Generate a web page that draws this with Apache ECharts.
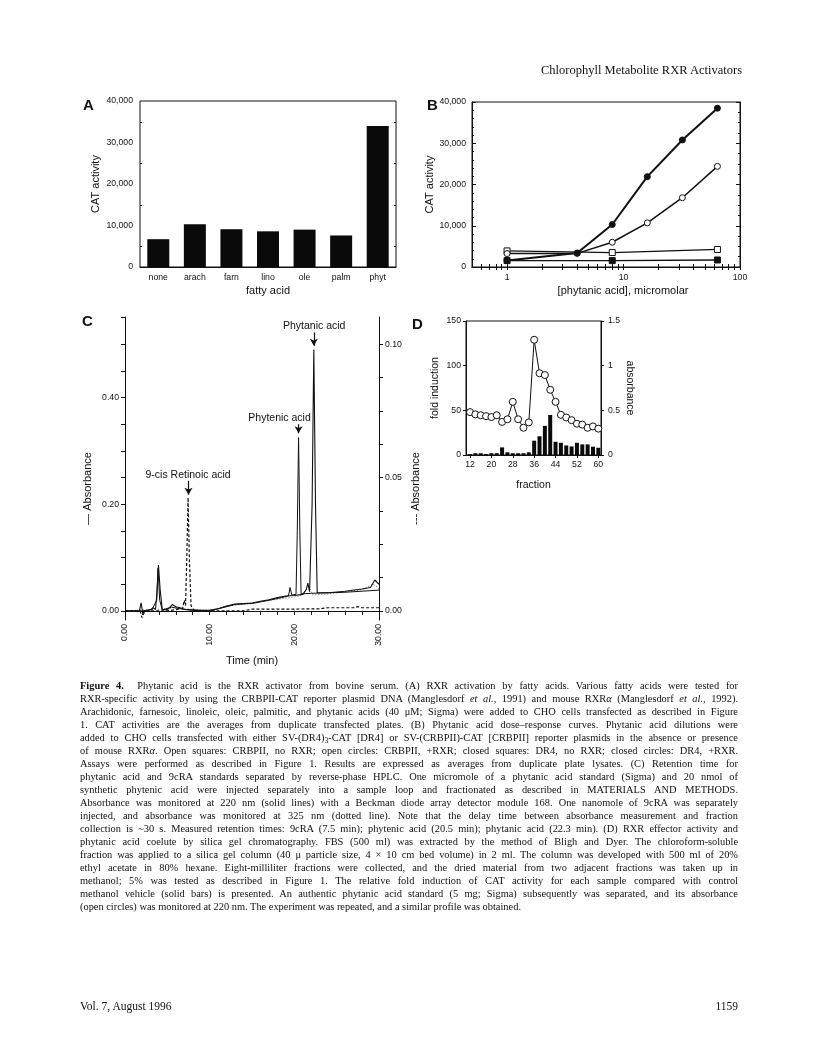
<!DOCTYPE html>
<html>
<head>
<meta charset="utf-8">
<script src="https://cdn.jsdelivr.net/npm/echarts@6/dist/echarts.min.js"></script>
<style>
  html, body { margin: 0; padding: 0; background: #fff; }
  #page { position: relative; width: 816px; height: 1060px; overflow: hidden; }
  #chart { position: absolute; left: 0; top: 0; width: 816px; height: 1060px; }
  .serif { position: absolute; font-family: 'Liberation Serif', 'DejaVu Serif', serif; color: #111; }
  #runhead { right: 74px; top: 63px; font-size: 12.5px; }
  #caption { left: 80px; top: 679px; width: 658px; font-size: 10.4px; line-height: 13px; }
  #caption .ln { white-space: nowrap; height: 13px; }
  #caption sub { font-size: 7.5px; line-height: 0; vertical-align: -2px; }
  #footL { left: 80px; top: 1000px; font-size: 11.5px; }
  #footR { right: 78px; top: 1000px; font-size: 11.5px; }
</style>
</head>
<body>
<div id="page">
  <div id="chart"></div>
  <div id="runhead" class="serif">Chlorophyll Metabolite RXR Activators</div>
  <div id="caption" class="serif">
    <div class="ln"><span><b>Figure 4.</b>&nbsp; Phytanic acid is the RXR activator from bovine serum. (A) RXR activation by fatty acids. Various fatty acids were tested for</span></div>
    <div class="ln"><span>RXR-specific activity by using the CRBPII-CAT reporter plasmid DNA (Manglesdorf <i>et al.</i>, 1991) and mouse RXR<i>α</i> (Manglesdorf <i>et al.</i>, 1992).</span></div>
    <div class="ln"><span>Arachidonic, farnesoic, linoleic, oleic, palmitic, and phytanic acids (40 μM; Sigma) were added to CHO cells transfected as described in Figure</span></div>
    <div class="ln"><span>1. CAT activities are the averages from duplicate transfected plates. (B) Phytanic acid dose–response curves. Phytanic acid dilutions were</span></div>
    <div class="ln"><span>added to CHO cells transfected with either SV-(DR4)<sub>3</sub>-CAT [DR4] or SV-(CRBPII)-CAT [CRBPII] reporter plasmids in the absence or presence</span></div>
    <div class="ln"><span>of mouse RXR<i>α</i>. Open squares: CRBPII, no RXR; open circles: CRBPII, +RXR; closed squares: DR4, no RXR; closed circles: DR4, +RXR.</span></div>
    <div class="ln"><span>Assays were performed as described in Figure 1. Results are expressed as averages from duplicate plate lysates. (C) Retention time for</span></div>
    <div class="ln"><span>phytanic acid and 9cRA standards separated by reverse-phase HPLC. One micromole of a phytanic acid standard (Sigma) and 20 nmol of</span></div>
    <div class="ln"><span>synthetic phytenic acid were injected separately into a sample loop and fractionated as described in MATERIALS AND METHODS.</span></div>
    <div class="ln"><span>Absorbance was monitored at 220 nm (solid lines) with a Beckman diode array detector module 168. One nanomole of 9cRA was separately</span></div>
    <div class="ln"><span>injected, and absorbance was monitored at 325 nm (dotted line). Note that the delay time between absorbance measurement and fraction</span></div>
    <div class="ln"><span>collection is ~30 s. Measured retention times: 9cRA (7.5 min); phytenic acid (20.5 min); phytanic acid (22.3 min). (D) RXR effector activity and</span></div>
    <div class="ln"><span>phytanic acid coelute by silica gel chromatography. FBS (500 ml) was extracted by the method of Bligh and Dyer. The chloroform-soluble</span></div>
    <div class="ln"><span>fraction was applied to a silica gel column (40 μ particle size, 4 × 10 cm bed volume) in 2 ml. The column was developed with 500 ml of 20%</span></div>
    <div class="ln"><span>ethyl acetate in 80% hexane. Eight-milliliter fractions were collected, and the dried material from two adjacent fractions was taken up in</span></div>
    <div class="ln"><span>methanol; 5% was tested as described in Figure 1. The relative fold induction of CAT activity for each sample compared with control</span></div>
    <div class="ln"><span>methanol vehicle (solid bars) is presented. An authentic phytanic acid standard (5 mg; Sigma) subsequently was separated, and its absorbance</span></div>
    <div class="ln last"><span>(open circles) was monitored at 220 nm. The experiment was repeated, and a similar profile was obtained.</span></div>
  </div>
  <div id="footL" class="serif">Vol. 7, August 1996</div>
  <div id="footR" class="serif">1159</div>
</div>
<script>
  // --- A: fatty acids
  const fattyAcids = ['none', 'arach', 'farn', 'lino', 'ole', 'palm', 'phyt']
  const catActivity = [6700, 10300, 9100, 8600, 9000, 7600, 34000]

  // --- B: dose response
  const doseAll = [1, 4, 8, 16, 32, 64]
  const dr4WithRxr = [1600, 3400, 10300, 21900, 30800, 38500]
  const crbpWithRxr = [3250, 3300, 6000, 10700, 16800, 24400]
  const doseControl = [1, 8, 64]
  const crbpNoRxr = [3900, 3500, 4250]
  const dr4NoRxr = [1550, 1550, 1700]
  const doseTicks = [0.6, 0.7, 0.8, 0.9, 1, 2, 3, 4, 5, 6, 7, 8, 9, 10, 20, 30, 40, 50, 60, 70, 80, 90, 100]

  // --- C: HPLC traces (time in min, absorbance)
  const phytanicTime = [0, 1.7, 1.9, 2.1, 2.4, 3.0, 3.3, 3.6, 3.75, 3.95, 4.15, 4.4, 5.0, 5.6, 6.0, 6.5, 7.0, 8.0, 9.0, 10, 11, 12, 13, 14, 15, 16, 17, 18, 19, 20, 21, 21.4, 21.6, 21.8, 22.0, 22.1, 22.3, 22.5, 22.7, 24, 26, 28, 29, 29.5, 30]
  const phytanicAbs = [0, 0, 0.015, -0.004, 0, 0.002, 0.006, 0.003, 0.03, 0.086, 0.04, 0.003, 0.002, 0.012, 0.008, 0.006, 0.003, 0.002, 0.001, 0.001, 0.004, 0.009, 0.013, 0.014, 0.015, 0.018, 0.021, 0.025, 0.028, 0.029, 0.031, 0.04, 0.052, 0.036, 0.035, 0.2, 0.49, 0.2, 0.034, 0.034, 0.037, 0.041, 0.044, 0.058, 0.05]
  const phytenicTime = [0, 2, 3.2, 3.75, 3.9, 4.1, 4.4, 5.5, 6.5, 8, 9.5, 10.5, 12, 13, 15, 17, 18.5, 19.3, 19.5, 19.7, 20.2, 20.35, 20.5, 20.65, 20.8, 22, 24, 26, 28, 30]
  const phytenicAbs = [0, 0, 0.003, 0.02, 0.08, 0.02, 0.002, 0.007, 0.004, 0.001, 0, 0.002, 0.008, 0.012, 0.014, 0.02, 0.025, 0.028, 0.044, 0.03, 0.031, 0.15, 0.325, 0.15, 0.032, 0.033, 0.034, 0.035, 0.037, 0.039]
  const faintTime = [0, 5, 6, 7, 10, 12, 14, 16, 18, 20, 21, 21.7, 22.2, 24, 28, 29.3, 29.8, 30]
  const faintAbs = [0, 0.004, 0.007, 0.004, 0.001, 0.009, 0.013, 0.017, 0.022, 0.026, 0.03, 0.045, 0.03, 0.032, 0.04, 0.05, 0.045, 0.04]
  const retinoicTime = [0, 1.8, 2.0, 2.3, 2.6, 5.0, 6.0, 6.8, 7.0, 7.15, 7.3, 7.45, 7.6, 7.8, 8.2, 14, 15, 20, 23, 24, 27, 27.5, 28, 30]
  const retinoicAbs = [0, 0, -0.0025, -0.0005, 0, 0, 0.0005, 0.001, 0.004, 0.002, 0.02, 0.0425, 0.02, 0.002, 0, 0, 0.0007, 0.0007, 0.0008, 0.0012, 0.0012, 0.0016, 0.0012, 0.0012]

  // --- D: silica gel fractions
  const fractions = [12, 14, 16, 18, 20, 22, 24, 26, 28, 30, 32, 34, 36, 38, 40, 42, 44, 46, 48, 50, 52, 54, 56, 58, 60]
  const foldInduction = [1, 2, 2, 1, 2, 2, 8.5, 3, 2, 2, 2, 3, 16, 21, 32.6, 44.8, 14.8, 13.7, 10.7, 9.6, 13.7, 11.9, 11.9, 9.3, 8.1]
  const fractionAbs = [0.48, 0.455, 0.445, 0.435, 0.425, 0.445, 0.37, 0.40, 0.595, 0.40, 0.305, 0.365, 1.29, 0.915, 0.895, 0.73, 0.595, 0.45, 0.42, 0.39, 0.35, 0.34, 0.305, 0.32, 0.295]

  const pairs = (xs, ys) => xs.map((x, i) => [x, ys[i]])
  const range = (a, b, s) => { const out = []; for (let v = a; v <= b + 1e-9; v += s) out.push(+v.toFixed(4)); return out }

  const ink = '#111'
  const sans = "'Liberation Sans', Arial, sans-serif"
  const lineAx = { lineStyle: { color: ink, width: 1 } }
  const lbl = (extra) => Object.assign({ color: ink, fontFamily: sans, fontSize: 8.7 }, extra || {})
  const nameStyle = (extra) => Object.assign({ color: ink, fontFamily: sans, fontSize: 11 }, extra || {})
  const noSplit = { show: false }
  const letter = "bold 15px 'Liberation Sans'"

  const chart = echarts.init(document.getElementById('chart'))

  chart.setOption({
    animation: false,
    backgroundColor: '#fff',
    textStyle: { fontFamily: sans },
    graphic: [
      { type: 'text', left: 83, top: 98, style: { text: 'A', font: letter, fill: ink } },
      { type: 'text', left: 427, top: 98, style: { text: 'B', font: letter, fill: ink } },
      { type: 'text', left: 82, top: 314, style: { text: 'C', font: letter, fill: ink } },
      { type: 'text', left: 412, top: 317, style: { text: 'D', font: letter, fill: ink } }
    ],
    grid: [
      { left: 140, top: 101, width: 256, height: 166, show: true, borderColor: ink, borderWidth: 1, containLabel: false },
      { left: 472, top: 102, width: 268, height: 165, show: true, borderColor: ink, borderWidth: 1, containLabel: false },
      { left: 125, top: 317, width: 254, height: 303, containLabel: false },
      { left: 466, top: 321, width: 135, height: 134, show: true, borderColor: ink, borderWidth: 1, containLabel: false }
    ],
    xAxis: [
      {
        gridIndex: 0, type: 'category', data: fattyAcids,
        axisLine: lineAx, axisTick: { inside: true, length: 4, lineStyle: { color: ink } },
        axisLabel: lbl({ margin: 6 }),
        name: 'fatty acid', nameLocation: 'middle', nameGap: 18, nameTextStyle: nameStyle()
      },
      {
        gridIndex: 1, type: 'log', logBase: 10, min: 0.5, max: 100,
        axisLine: lineAx,
        axisTick: { inside: true, length: 3, customValues: doseTicks, lineStyle: { color: ink } },
        axisLabel: lbl({ margin: 6, showMinLabel: false }),
        splitLine: noSplit,
        name: '[phytanic acid], micromolar', nameLocation: 'middle', nameGap: 18,
        nameTextStyle: nameStyle({ padding: [0, 0, 0, 34] })
      },
      {
        gridIndex: 1, type: 'log', logBase: 10, min: 0.5, max: 100, position: 'top',
        axisLine: lineAx,
        axisTick: { inside: true, length: 3, customValues: doseTicks, lineStyle: { color: ink } },
        axisLabel: { show: false }, splitLine: noSplit
      },
      {
        gridIndex: 2, type: 'value', min: 0, max: 30, interval: 2,
        axisLine: lineAx,
        axisTick: { length: 4, lineStyle: { color: ink } },
        axisLabel: lbl({ customValues: [0, 10, 20, 30], rotate: 90, margin: 4, formatter: v => v.toFixed(2) }),
        splitLine: noSplit,
        name: 'Time (min)', nameLocation: 'middle', nameGap: 35, nameTextStyle: nameStyle()
      },
      {
        gridIndex: 3, type: 'value', min: 10.5, max: 61,
        axisLine: lineAx,
        axisTick: { length: 3, customValues: range(12, 60, 8), lineStyle: { color: ink } },
        axisLabel: lbl({ customValues: range(12, 60, 8), margin: 5, fontSize: 8.7 }),
        splitLine: noSplit,
        name: 'fraction', nameLocation: 'middle', nameGap: 25, nameTextStyle: nameStyle({ fontSize: 10.5 })
      }
    ],
    yAxis: [
      {
        gridIndex: 0, type: 'value', min: 0, max: 40000, interval: 10000,
        axisLine: lineAx, axisTick: { inside: true, length: 4, lineStyle: { color: ink } },
        minorTick: { show: true, splitNumber: 2, length: 2, lineStyle: { color: ink } },
        axisLabel: lbl({ margin: 7 }), splitLine: noSplit, minorSplitLine: noSplit,
        name: 'CAT activity', nameLocation: 'middle', nameRotate: 90, nameGap: 39, nameTextStyle: nameStyle()
      },
      {
        gridIndex: 0, type: 'value', min: 0, max: 40000, interval: 10000, position: 'right',
        axisLine: lineAx, axisTick: { inside: true, length: 4, lineStyle: { color: ink } },
        minorTick: { show: true, splitNumber: 2, length: 2, lineStyle: { color: ink } },
        axisLabel: { show: false }, splitLine: noSplit
      },
      {
        gridIndex: 1, type: 'value', min: 0, max: 40000, interval: 10000,
        axisLine: lineAx, axisTick: { inside: true, length: 4, lineStyle: { color: ink } },
        minorTick: { show: true, splitNumber: 5, length: 2, lineStyle: { color: ink } },
        axisLabel: lbl({ margin: 6 }), splitLine: noSplit,
        name: 'CAT activity', nameLocation: 'middle', nameRotate: 90, nameGap: 30, nameTextStyle: nameStyle()
      },
      {
        gridIndex: 1, type: 'value', min: 0, max: 40000, interval: 10000, position: 'right',
        axisLine: lineAx, axisTick: { inside: true, length: 4, lineStyle: { color: ink } },
        minorTick: { show: true, splitNumber: 4, length: 2, lineStyle: { color: ink } },
        axisLabel: { show: false }, splitLine: noSplit
      },
      {
        gridIndex: 2, type: 'value', min: -0.017, max: 0.551,
        axisLine: lineAx,
        axisTick: { length: 4, customValues: range(0, 0.55, 0.05), lineStyle: { color: ink } },
        axisLabel: lbl({ customValues: [0, 0.2, 0.4], margin: 6, formatter: v => v.toFixed(2) }),
        splitLine: noSplit,
        name: '— Absorbance', nameLocation: 'middle', nameRotate: 90, nameGap: 32,
        nameTextStyle: nameStyle({ padding: [0, 40, 0, 0] })
      },
      {
        gridIndex: 2, type: 'value', min: -0.0034, max: 0.1102, position: 'right',
        axisLine: lineAx,
        axisTick: { length: 4, customValues: range(0, 0.1, 0.0125), lineStyle: { color: ink } },
        axisLabel: lbl({ customValues: [0, 0.05, 0.1], margin: 6, formatter: v => v.toFixed(2) }),
        splitLine: noSplit,
        name: '--- Absorbance', nameLocation: 'middle', nameRotate: 90, nameGap: 31,
        nameTextStyle: nameStyle({ padding: [0, 40, 0, 0] })
      },
      {
        gridIndex: 3, type: 'value', min: 0, max: 150, interval: 50,
        axisLine: lineAx, axisTick: { length: 3, lineStyle: { color: ink } },
        axisLabel: lbl({ margin: 5 }), splitLine: noSplit,
        name: 'fold induction', nameLocation: 'middle', nameRotate: 90, nameGap: 25, nameTextStyle: nameStyle({ fontSize: 10.5 })
      },
      {
        gridIndex: 3, type: 'value', min: 0, max: 1.5, interval: 0.5, position: 'right',
        axisLine: lineAx, axisTick: { length: 3, lineStyle: { color: ink } },
        axisLabel: lbl({ margin: 7 }), splitLine: noSplit,
        name: 'absorbance', nameLocation: 'middle', nameRotate: -90, nameGap: 23, nameTextStyle: nameStyle({ fontSize: 10.5 })
      }
    ],
    series: [
      // A
      {
        type: 'bar', xAxisIndex: 0, yAxisIndex: 0, data: catActivity,
        barWidth: 22, itemStyle: { color: '#0a0a0a' }
      },
      // B
      {
        name: 'CRBPII, no RXR', type: 'line', xAxisIndex: 1, yAxisIndex: 2,
        data: pairs(doseControl, crbpNoRxr), symbol: 'rect', symbolSize: 6,
        lineStyle: { color: ink, width: 1.3 }, itemStyle: { color: '#fff', borderColor: ink, borderWidth: 1 }
      },
      {
        name: 'DR4, no RXR', type: 'line', xAxisIndex: 1, yAxisIndex: 2,
        data: pairs(doseControl, dr4NoRxr), symbol: 'rect', symbolSize: 6,
        lineStyle: { color: ink, width: 1.3 }, itemStyle: { color: ink, borderColor: ink }
      },
      {
        name: 'CRBPII, +RXR', type: 'line', xAxisIndex: 1, yAxisIndex: 2,
        data: pairs(doseAll, crbpWithRxr), symbol: 'circle', symbolSize: 6,
        lineStyle: { color: ink, width: 1.5 }, itemStyle: { color: '#fff', borderColor: ink, borderWidth: 1 }
      },
      {
        name: 'DR4, +RXR', type: 'line', xAxisIndex: 1, yAxisIndex: 2,
        data: pairs(doseAll, dr4WithRxr), symbol: 'circle', symbolSize: 6,
        lineStyle: { color: ink, width: 2 }, itemStyle: { color: ink, borderColor: ink }
      },
      // C
      {
        name: 'faint', type: 'line', xAxisIndex: 3, yAxisIndex: 4,
        data: pairs(faintTime, faintAbs), showSymbol: false,
        lineStyle: { color: '#333', width: 0.8, type: [1, 2] }
      },
      {
        name: 'phytenic', type: 'line', xAxisIndex: 3, yAxisIndex: 4,
        data: pairs(phytenicTime, phytenicAbs), showSymbol: false,
        lineStyle: { color: ink, width: 1 }
      },
      {
        name: 'phytanic', type: 'line', xAxisIndex: 3, yAxisIndex: 4,
        data: pairs(phytanicTime, phytanicAbs), showSymbol: false,
        lineStyle: { color: ink, width: 1.1 },
        markLine: {
          silent: true, symbol: ['none', 'arrow'], symbolSize: [6, 7],
          lineStyle: { color: ink, width: 1.2, type: 'solid' }, label: { show: false },
          data: [
            [{ coord: [22.3, 0.522] }, { coord: [22.3, 0.497] }],
            [{ coord: [20.5, 0.35] }, { coord: [20.5, 0.333] }],
            [{ coord: [7.5, 0.244] }, { coord: [7.5, 0.218] }]
          ]
        },
        markPoint: {
          silent: true, symbol: 'rect', symbolSize: 1, itemStyle: { color: 'rgba(0,0,0,0)' },
          label: { show: true, position: 'inside', color: ink, fontFamily: sans, fontSize: 10.5, formatter: p => p.name },
          data: [
            { name: 'Phytanic acid', coord: [22.35, 0.533] },
            { name: 'Phytenic acid', coord: [18.25, 0.362] },
            { name: '9-cis Retinoic acid', coord: [7.45, 0.254] }
          ]
        }
      },
      {
        name: '9cRA', type: 'line', xAxisIndex: 3, yAxisIndex: 5,
        data: pairs(retinoicTime, retinoicAbs), showSymbol: false,
        lineStyle: { color: ink, width: 1.2, type: [3, 2] }
      },
      // D
      {
        name: 'fold induction', type: 'bar', xAxisIndex: 4, yAxisIndex: 6,
        data: pairs(fractions, foldInduction), barWidth: 4, itemStyle: { color: '#0a0a0a' }
      },
      {
        name: 'absorbance', type: 'line', xAxisIndex: 4, yAxisIndex: 7,
        data: pairs(fractions, fractionAbs), symbol: 'circle', symbolSize: 7,
        lineStyle: { color: ink, width: 1 }, itemStyle: { color: '#fff', borderColor: ink, borderWidth: 1 }
      }
    ]
  })

  // justify each caption line to the column width (word-spacing also applies to no-break spaces)
  document.querySelectorAll('#caption .ln').forEach(function (el) {
    if (el.classList.contains('last')) return
    const span = el.firstElementChild
    const w = span.getBoundingClientRect().width
    const gaps = (span.textContent.match(/[ \u00a0]/g) || []).length
    if (gaps) el.style.wordSpacing = ((658 - w) / gaps) + 'px'
  })
</script>
</body>
</html>
